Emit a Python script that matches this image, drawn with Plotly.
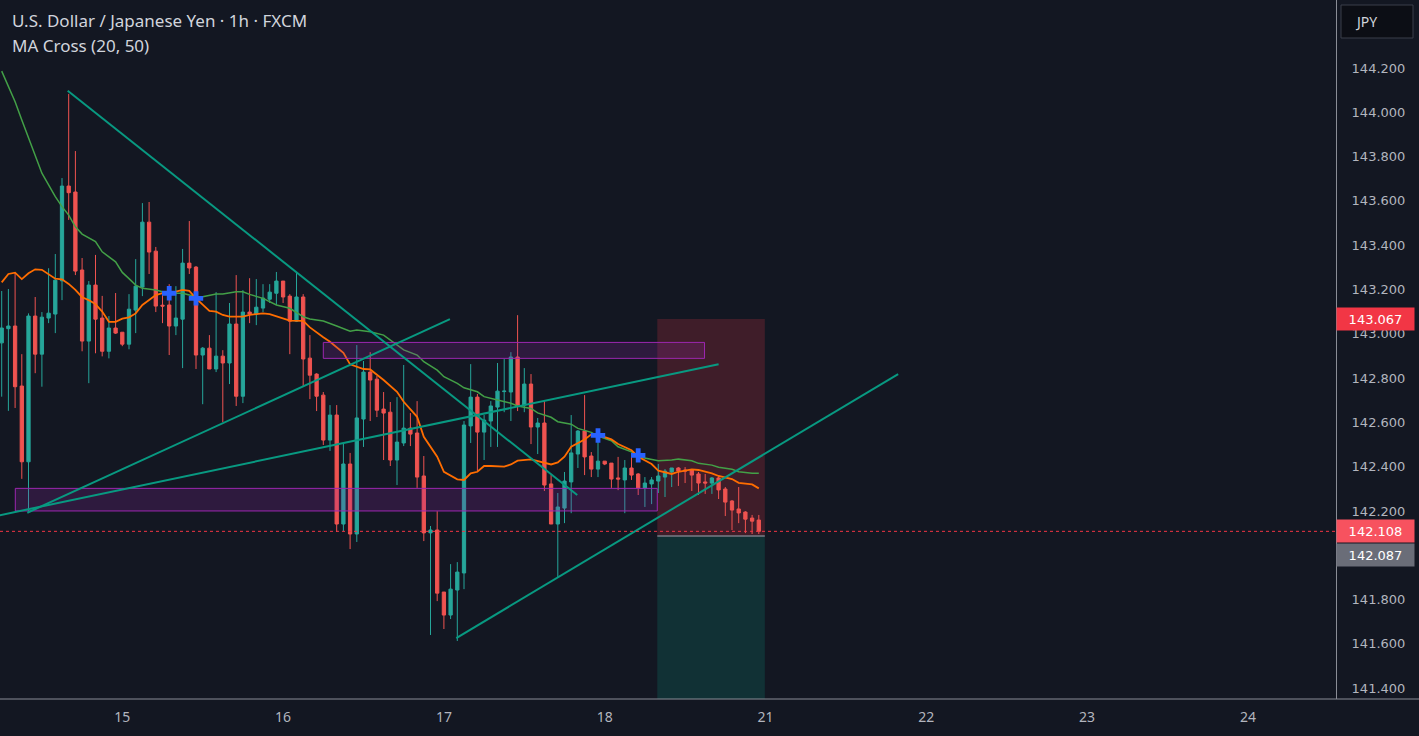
import plotly.graph_objects as go

# ---------------- data ----------------
bars = list(range(114))
open_ = [142.959,143.023,143.035,142.764,142.422,143.080,142.908,143.071,143.089,143.239,
         143.667,143.640,143.288,142.967,143.220,143.071,142.921,143.026,143.007,142.953,
         143.107,143.211,143.504,143.373,143.129,143.130,143.035,143.066,143.319,143.301,
         142.904,142.935,142.841,142.899,142.868,143.044,142.718,143.098,143.089,143.116,
         143.156,143.183,143.238,143.170,143.057,143.166,142.890,142.818,142.723,142.520,
         142.633,142.141,142.412,142.096,142.615,142.827,142.795,142.660,142.646,142.430,
         142.507,142.574,142.552,142.358,142.101,142.114,141.834,141.730,141.843,141.920,
         142.584,142.714,142.556,142.606,142.669,142.739,142.737,142.895,142.678,142.773,
         142.579,142.597,142.322,142.141,142.213,142.331,142.457,142.561,142.448,142.389,
         142.425,142.416,142.349,142.340,142.394,142.367,142.304,142.322,142.335,142.353,
         142.376,142.394,142.385,142.385,142.367,142.331,142.326,142.349,142.299,142.245,
         142.209,142.195,142.168,142.159]
high_ = [143.193,143.202,143.275,142.908,143.092,143.166,143.098,143.296,143.360,143.703,
         144.083,143.825,143.342,143.238,143.356,143.171,143.080,143.184,143.007,143.179,
         143.337,143.590,143.595,143.392,143.179,143.224,143.215,143.383,143.509,143.306,
         142.940,142.994,143.188,142.926,143.139,143.265,143.197,143.251,143.247,143.224,
         143.224,143.279,143.238,143.179,143.279,143.179,142.994,142.822,142.737,142.678,
         142.678,142.507,142.462,142.949,142.877,142.917,142.809,142.737,142.692,142.714,
         142.859,142.642,142.696,142.448,142.132,142.199,141.834,141.960,141.969,142.606,
         142.863,142.728,142.633,142.696,142.868,142.886,142.917,143.084,142.845,142.818,
         142.620,142.696,142.362,142.281,142.376,142.633,142.565,142.723,142.466,142.565,
         142.425,142.416,142.444,142.430,142.452,142.371,142.353,142.353,142.412,142.389,
         142.394,142.398,142.398,142.389,142.376,142.367,142.353,142.358,142.308,142.249,
         142.308,142.199,142.182,142.182]
low_ = [142.716,142.652,142.665,142.345,142.197,142.822,142.761,143.048,143.003,143.152,
        143.514,143.265,142.921,142.777,142.912,142.898,142.889,142.999,142.944,142.930,
        143.003,143.170,143.270,143.098,143.048,142.904,142.994,142.845,143.270,142.841,
        142.682,142.841,142.827,142.601,142.773,142.674,142.687,143.048,143.039,143.098,
        143.139,143.130,143.139,142.908,143.053,142.764,142.705,142.651,142.498,142.471,
        142.105,142.109,142.028,142.060,142.489,142.606,142.624,142.430,142.403,142.317,
        142.493,142.493,142.304,142.064,141.640,141.793,141.667,141.712,141.613,141.847,
        142.507,142.380,142.430,142.489,142.489,142.646,142.606,142.651,142.646,142.502,
        142.457,142.290,142.141,141.902,142.145,142.190,142.394,142.362,142.353,142.353,
        142.407,142.304,142.294,142.190,142.340,142.272,142.218,142.231,142.281,142.263,
        142.308,142.313,142.326,142.290,142.272,142.277,142.277,142.254,142.177,142.114,
        142.145,142.100,142.096,142.096]
close_ = [143.026,143.035,142.761,142.422,143.080,142.908,143.075,143.093,143.242,143.667,
          143.637,143.283,142.967,143.220,143.066,142.921,143.026,143.003,142.953,143.111,
          143.215,143.504,143.369,143.125,143.125,143.035,143.071,143.319,143.297,142.904,
          142.935,142.841,142.899,142.868,143.044,142.718,143.098,143.089,143.120,143.161,
          143.188,143.238,143.166,143.057,143.166,142.886,142.813,142.718,142.520,142.633,
          142.141,142.412,142.096,142.620,142.827,142.791,142.655,142.642,142.430,142.511,
          142.574,142.547,142.353,142.101,142.114,141.829,141.730,141.847,141.924,142.588,
          142.714,142.556,142.610,142.674,142.741,142.741,142.895,142.678,142.773,142.579,
          142.597,142.317,142.141,142.218,142.335,142.462,142.561,142.444,142.389,142.425,
          142.412,142.344,142.344,142.394,142.362,142.304,142.326,142.340,142.358,142.380,
          142.394,142.380,142.380,142.362,142.326,142.326,142.349,142.295,142.240,142.204,
          142.191,142.163,142.154,142.108]

ma20_bars = [0,1,2,3,4,5,6,7,8,9,10,11,12,13,14,15,16,17,18,19,20,21,23,24,26,27,28,29,30,31,
             32,33,34,36,37,39,40,42,43,45,46,48,49,51,52,54,55,57,59,60,62,63,65,66,68,69,70,
             71,72,73,75,76,77,79,80,82,83,84,85,87,88,89,91,92,94,95,97,98,100,101,103,104,
             106,107,109,110,112,113]
ma20_vals = [143.232,143.270,143.276,143.247,143.273,143.291,143.289,143.268,143.249,143.246,
             143.225,143.198,143.165,143.152,143.134,143.100,143.054,143.054,143.068,143.074,
             143.092,143.130,143.175,143.183,143.190,143.198,143.194,143.160,143.130,143.103,
             143.100,143.085,143.077,143.077,143.085,143.092,143.089,143.067,143.059,143.058,
             143.029,142.984,142.964,142.914,142.862,142.841,142.839,142.791,142.738,142.693,
             142.625,142.535,142.445,142.377,142.343,142.340,142.370,142.377,142.403,142.403,
             142.400,142.410,142.427,142.433,142.425,142.410,142.419,142.445,142.490,142.523,
             142.546,142.543,142.523,142.502,142.474,142.445,142.412,142.382,142.367,142.377,
             142.388,142.385,142.370,142.358,142.344,142.327,142.320,142.302]

ma50_bars = [0,2,3,4,5,6,7,8,9,10,11,12,14,15,17,18,19,20,21,23,24,26,27,29,30,32,33,35,36,37,
             39,41,43,45,46,48,50,52,53,55,57,59,60,62,63,65,66,68,69,71,72,74,75,76,77,79,80,
             82,83,85,86,88,89,91,92,94,95,97,98,100,101,103,104,106,107,109,110,112,113]
ma50_vals = [144.186,144.048,143.965,143.884,143.800,143.725,143.672,143.619,143.574,143.536,
             143.483,143.450,143.416,143.370,143.325,143.277,143.249,143.220,143.205,143.198,
             143.190,143.183,143.183,143.167,143.167,143.180,143.180,143.190,143.190,143.178,
             143.160,143.130,143.115,143.077,143.067,143.058,143.035,143.012,143.017,143.009,
             142.994,142.949,142.927,142.904,142.874,142.836,142.806,142.776,142.756,142.738,
             142.716,142.701,142.693,142.686,142.674,142.663,142.643,142.623,142.603,142.592,
             142.573,142.555,142.538,142.517,142.490,142.467,142.445,142.433,142.427,142.430,
             142.434,142.427,142.415,142.407,142.397,142.388,142.377,142.370,142.370]

cross_bars = [25, 29, 89, 95]
cross_prices = [143.183, 143.160, 142.541, 142.451]

# trend lines: (bar0, price0, bar1, price1)
trend_lines = [
    (9.85, 144.097, 85.9, 142.272),
    (3.82, 142.192, 66.9, 143.066),
    (-2.0, 142.170, 107.0, 142.862),
    (67.85, 141.626, 133.8, 142.818),
]
# zones: (bar0, bar1, price_low, price_high)
zones = [
    (48.0, 104.9, 142.889, 142.961),
    (2.03, 97.85, 142.200, 142.302),
]
pos_bars = (97.85, 113.9)
pos_stop, pos_entry, pos_target = 143.067, 142.087, 141.107
last_price = 142.108

day_ticks = [18, 42, 66, 90, 114, 138, 162, 186]
day_labels = ["15", "16", "17", "18", "21", "22", "23", "24"]
# 142.000 is hidden behind the entry-price label in the reference
price_ticks = [141.4, 141.6, 141.8, 142.2, 142.4, 142.6, 142.8, 143.0,
               143.2, 143.4, 143.6, 143.8, 144.0, 144.2]
price_labels = [f"{p:.3f}" for p in price_ticks]

# ---------------- figure ----------------
BG = "#131722"
UP, DN = "#26a69a", "#ef5350"
TL = "#089981"
AXC = "#b2b5be"
LINEC = "#8a8d96"
AXFONT = "DejaVu Sans"

fig = go.Figure()
fig.add_trace(go.Candlestick(
    x=bars, open=open_, high=high_, low=low_, close=close_,
    increasing=dict(line=dict(color=UP, width=1), fillcolor=UP),
    decreasing=dict(line=dict(color=DN, width=1), fillcolor=DN),
    whiskerwidth=0, hoverinfo="skip", showlegend=False))
fig.add_trace(go.Scatter(x=ma50_bars, y=ma50_vals, mode="lines",
                         line=dict(color="#43a047", width=1.5), hoverinfo="skip", showlegend=False))
fig.add_trace(go.Scatter(x=ma20_bars, y=ma20_vals, mode="lines",
                         line=dict(color="#ff6d00", width=1.8), hoverinfo="skip", showlegend=False))
fig.add_trace(go.Scatter(x=cross_bars, y=cross_prices, mode="markers",
                         marker=dict(symbol="cross", size=12, color="#2962ff", line=dict(width=0)),
                         hoverinfo="skip", showlegend=False))

shapes = []
# position tool
shapes.append(dict(type="rect", xref="x", yref="y", x0=pos_bars[0], x1=pos_bars[1],
                   y0=pos_entry, y1=pos_stop, fillcolor="rgba(242,54,69,0.2)",
                   line=dict(width=0), layer="below"))
shapes.append(dict(type="rect", xref="x", yref="y", x0=pos_bars[0], x1=pos_bars[1],
                   y0=pos_target, y1=pos_entry, fillcolor="rgba(8,153,129,0.2)",
                   line=dict(width=0), layer="below"))
shapes.append(dict(type="line", xref="x", yref="y", x0=pos_bars[0], x1=pos_bars[1],
                   y0=pos_entry, y1=pos_entry, line=dict(color="#787b86", width=1.5)))
for b0, b1, p0, p1 in zones:
    shapes.append(dict(type="rect", xref="x", yref="y", x0=b0, x1=b1, y0=p0, y1=p1,
                       fillcolor="rgba(156,39,176,0.2)", line=dict(color="#9c27b0", width=1),
                       layer="above"))
for b0, p0, b1, p1 in trend_lines:
    shapes.append(dict(type="line", xref="x", yref="y", x0=b0, y0=p0, x1=b1, y1=p1,
                       line=dict(color=TL, width=2), layer="above"))
shapes.append(dict(type="line", xref="paper", yref="y", x0=0, x1=1, y0=last_price, y1=last_price,
                   line=dict(color="#f23645", width=1, dash="dot")))
# bottom border extended under the price scale
shapes.append(dict(type="line", xref="paper", yref="paper", x0=0, x1=1419 / 1336, y0=0, y1=0,
                   line=dict(color=LINEC, width=1)))
# JPY box
shapes.append(dict(type="rect", xref="paper", yref="paper", x0=1341 / 1336, x1=1413 / 1336,
                   y0=1 - 38 / 699, y1=1 - 5 / 699, fillcolor="#0c0e15",
                   line=dict(color="#3a3e4a", width=1)))

ann = []
ann.append(dict(xref="paper", yref="paper", x=0, y=1, xanchor="left", yanchor="middle",
                xshift=10, yshift=-20, showarrow=False,
                text="U.S. Dollar / Japanese Yen · 1h · FXCM",
                font=dict(family="Noto Sans", size=17, color="#d1d4dc")))
ann.append(dict(xref="paper", yref="paper", x=0, y=1, xanchor="left", yanchor="middle",
                xshift=10, yshift=-45, showarrow=False, text="MA Cross (20, 50)",
                font=dict(family="Noto Sans", size=17, color="#d1d4dc")))
ann.append(dict(xref="paper", yref="paper", x=1353 / 1336, y=1 - 21 / 699, xanchor="left",
                yanchor="middle", showarrow=False, text="JPY",
                font=dict(family="Noto Sans", size=14, color="#d1d4dc")))

def price_box(price, color, shift=0):
    return dict(xref="paper", yref="y", x=1, y=price, xanchor="left", yanchor="middle",
                yshift=shift, showarrow=False, text=f"{price:.3f}", bgcolor=color,
                width=73, height=18, borderpad=2, align="center",
                font=dict(family=AXFONT, size=13, color="#ffffff"))

ann.append(price_box(pos_stop, "#f23645"))
ann.append(price_box(last_price, "#f7525f"))
ann.append(price_box(pos_entry, "#6a6d78", shift=-19))

fig.update_layout(
    width=1419, height=736, margin=dict(l=0, r=83, t=0, b=37),
    paper_bgcolor=BG, plot_bgcolor=BG, showlegend=False,
    shapes=shapes, annotations=ann, dragmode=False,
    xaxis=dict(range=[-0.254, 199.15], tickmode="array", tickvals=day_ticks, ticktext=day_labels,
               showgrid=False, zeroline=False, showline=False, ticks="",
               rangeslider=dict(visible=False), ticklabelstandoff=8,
               tickfont=dict(family="Noto Sans", size=14, color=AXC)),
    yaxis=dict(range=[141.351, 144.507], side="right", tickmode="array", tickvals=price_ticks,
               ticktext=price_labels, showgrid=False, zeroline=False, showline=True,
               linecolor=LINEC, linewidth=1, ticks="", ticklabelstandoff=12,
               tickfont=dict(family=AXFONT, size=13, color=AXC)),
)

fig.write_html("out.html")
